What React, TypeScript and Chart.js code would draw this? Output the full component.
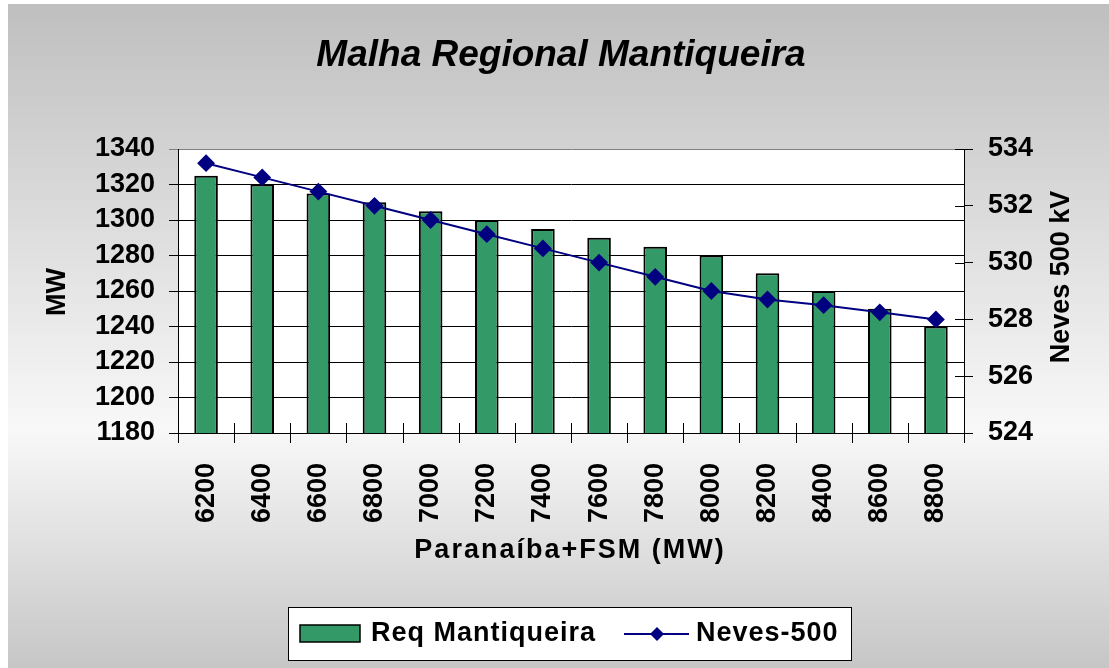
import React, { useEffect, useRef } from "react";
import { Chart, registerables } from "chart.js";

Chart.register(...registerables);

const categories = ["6200", "6400", "6600", "6800", "7000", "7200", "7400", "7600", "7800", "8000", "8200", "8400", "8600", "8800"];
const reqMantiqueira = [1325, 1320, 1315, 1310, 1305, 1300, 1295, 1290, 1285, 1280, 1270, 1260, 1250, 1240];
const neves500 = [533.5, 533.0, 532.5, 532.0, 531.5, 531.0, 530.5, 530.0, 529.5, 529.0, 528.7, 528.5, 528.25, 528.0];
const chartTitle = "Malha Regional Mantiqueira";
const xTitle = "Paranaíba+FSM (MW)";
const yTitle = "MW";
const y1Title = "Neves 500 kV";
const barLabel = "Req Mantiqueira";
const lineLabel = "Neves-500";

const FONT = "'Liberation Sans', Arial, sans-serif";
const BAR_COLOR = "#339966";
const LINE_COLOR = "#000080";

const W = 1101;
const H = 664;
const AREA = { left: 170, right: 956, top: 145, bottom: 429 };

const decorPlugin = {
  id: "decor",
  beforeDraw(chart: any) {
    const { ctx, chartArea } = chart;
    ctx.save();
    const g = ctx.createLinearGradient(0, 0, 0, H);
    g.addColorStop(0, "#bfbfbf");
    g.addColorStop(0.64, "#f8f8f8");
    g.addColorStop(1, "#c6c6c6");
    ctx.fillStyle = g;
    ctx.fillRect(0, 0, W, H);
    ctx.fillStyle = "#ffffff";
    ctx.fillRect(chartArea.left, chartArea.top, chartArea.right - chartArea.left, chartArea.bottom - chartArea.top);
    ctx.restore();
  },
  afterDraw(chart: any) {
    const { ctx, chartArea } = chart;
    const n = categories.length;
    ctx.save();
    // x-axis crossing tick marks
    ctx.strokeStyle = "#000";
    ctx.lineWidth = 1;
    const step = (chartArea.right - chartArea.left) / n;
    for (let i = 0; i <= n; i++) {
      const x = Math.round(chartArea.left + i * step) + 0.5;
      ctx.beginPath();
      ctx.moveTo(x, chartArea.bottom - 10);
      ctx.lineTo(x, chartArea.bottom + 10);
      ctx.stroke();
    }
    // inner part of right-axis ticks
    const y1 = chart.scales.y1;
    y1.ticks.forEach((t: any) => {
      const y = Math.round(y1.getPixelForValue(t.value)) + 0.5;
      ctx.beginPath();
      ctx.moveTo(chartArea.right - 9, y);
      ctx.lineTo(chartArea.right, y);
      ctx.stroke();
    });

    ctx.fillStyle = "#000";
    // title
    ctx.font = `italic bold 37px ${FONT}`;
    ctx.textAlign = "center";
    ctx.textBaseline = "middle";
    ctx.fillText(chartTitle, 553, 52);

    // x title
    ctx.font = `bold 27px ${FONT}`;
    (ctx as any).letterSpacing = "2px";
    ctx.fillText(xTitle, 562, 547);
    (ctx as any).letterSpacing = "0px";

    // y title
    ctx.save();
    ctx.translate(50, 288);
    ctx.rotate(-Math.PI / 2);
    ctx.fillText(yTitle, 0, 0);
    ctx.restore();

    // y1 title
    ctx.save();
    ctx.translate(1054, 273);
    ctx.rotate(-Math.PI / 2);
    ctx.fillText(y1Title, 0, 0);
    ctx.restore();

    // legend
    const lx = 280, ly = 603, lw = 563, lh = 53;
    ctx.fillStyle = "#ffffff";
    ctx.fillRect(lx, ly, lw, lh);
    ctx.strokeStyle = "#000";
    ctx.lineWidth = 1;
    ctx.strokeRect(lx + 0.5, ly + 0.5, lw, lh);
    const cy = 630;
    ctx.fillStyle = BAR_COLOR;
    ctx.fillRect(292, 621, 60, 17);
    ctx.lineWidth = 1.5;
    ctx.strokeRect(292, 621, 60, 17);
    ctx.fillStyle = "#000";
    ctx.font = `bold 27px ${FONT}`;
    ctx.textAlign = "left";
    ctx.textBaseline = "middle";
    (ctx as any).letterSpacing = "1px";
    ctx.fillText(barLabel, 363, cy);
    ctx.strokeStyle = LINE_COLOR;
    ctx.lineWidth = 2;
    ctx.beginPath();
    ctx.moveTo(616, cy);
    ctx.lineTo(681, cy);
    ctx.stroke();
    ctx.fillStyle = LINE_COLOR;
    ctx.beginPath();
    ctx.moveTo(649, cy - 7);
    ctx.lineTo(656, cy);
    ctx.lineTo(649, cy + 7);
    ctx.lineTo(642, cy);
    ctx.closePath();
    ctx.fill();
    ctx.fillStyle = "#000";
    ctx.fillText(lineLabel, 688, cy);
    (ctx as any).letterSpacing = "0px";
    ctx.restore();
  },
};

export default function App() {
  const ref = useRef<HTMLCanvasElement | null>(null);
  useEffect(() => {
    if (!ref.current) return;
    const tickFont = { family: FONT, size: 27, weight: "bold" as const };
    const plain = (v: any) => String(v);
    const chart = new Chart(ref.current, {
      type: "bar",
      data: {
        labels: categories,
        datasets: [
          {
            type: "line" as const,
            label: lineLabel,
            data: neves500,
            yAxisID: "y1",
            borderColor: LINE_COLOR,
            backgroundColor: LINE_COLOR,
            borderWidth: 2,
            pointStyle: "rectRot",
            pointRadius: 7.5,
            pointBackgroundColor: LINE_COLOR,
            pointBorderColor: LINE_COLOR,
            tension: 0,
            order: 0,
          },
          {
            type: "bar" as const,
            label: barLabel,
            data: reqMantiqueira,
            yAxisID: "y",
            backgroundColor: BAR_COLOR,
            borderColor: "#000000",
            borderWidth: 2,
            barPercentage: 0.42,
            categoryPercentage: 1,
            order: 1,
          },
        ] as any,
      },
      plugins: [decorPlugin],
      options: {
        responsive: false,
        animation: false,
        devicePixelRatio: 1,
        layout: { padding: { top: AREA.top, left: 0, right: 0, bottom: 0 } },
        plugins: {
          legend: { display: false },
          title: { display: false },
          tooltip: { enabled: false },
        },
        scales: {
          x: {
            grid: { display: false },
            border: { display: true, color: "#000" },
            ticks: {
              font: tickFont,
              color: "#000",
              minRotation: 90,
              maxRotation: 90,
              autoSkip: false,
              padding: 22,
            },
            afterFit: (s: any) => {
              s.height = H - AREA.bottom;
            },
          },
          y: {
            position: "left",
            min: 1180,
            max: 1340,
            ticks: { stepSize: 20, font: tickFont, color: "#000", padding: 14, callback: plain },
            grid: {
              color: (c: any) => (c.tick && c.tick.value === 1340 ? "#808080" : "#000000"),
              lineWidth: 1,
              tickLength: 9,
              drawTicks: true,
            },
            border: { display: true, color: "#000" },
            afterFit: (s: any) => {
              s.width = AREA.left;
            },
          },
          y1: {
            position: "right",
            min: 524,
            max: 534,
            ticks: { stepSize: 2, font: tickFont, color: "#000", padding: 15, callback: plain },
            grid: { drawOnChartArea: false, color: "#000", tickLength: 9, drawTicks: true },
            border: { display: true, color: "#000" },
            afterFit: (s: any) => {
              s.width = W - AREA.right;
            },
          },
        },
      } as any,
    });
    return () => chart.destroy();
  }, []);
  return (
    <div style={{ position: "absolute", left: 8, top: 4, width: W, height: H }}>
      <canvas ref={ref} width={W} height={H} style={{ width: W, height: H, display: "block" }} />
    </div>
  );
}
